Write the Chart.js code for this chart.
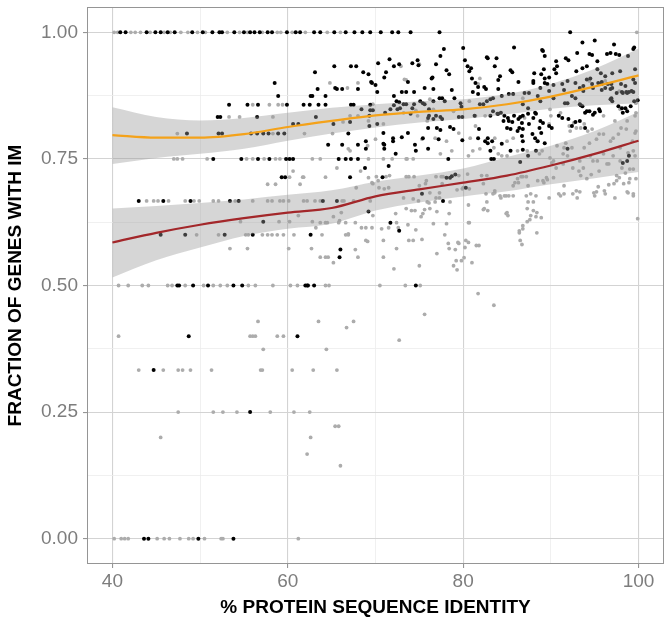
<!DOCTYPE html>
<html><head><meta charset="utf-8">
<script src="https://cdn.jsdelivr.net/npm/chart.js@4/dist/chart.umd.min.js"></script>
<style>html,body{margin:0;padding:0;background:#fff}#wrap{width:672px;height:622px}</style>
</head><body><div id="wrap"><canvas id="c" width="672" height="622"></canvas></div>
<script>
const xTicks = [40,50,60,70,80,90,100];
const yTicks = [0,0.125,0.25,0.375,0.5,0.625,0.75,0.875,1];
const xTitle = '% PROTEIN SEQUENCE IDENTITY';
const yTitle = 'FRACTION OF GENES WITH IM';

// LOESS fits
const fitX      = [40,45,50,55,60,65,70,75,80,85,90,95,100];
const orangeFit = [0.797,0.792,0.792,0.799,0.813,0.825,0.836,0.843,0.848,0.858,0.873,0.893,0.915];
const orangeHi  = [0.852,0.833,0.826,0.831,0.841,0.851,0.858,0.864,0.868,0.878,0.898,0.928,0.968];
const orangeLo  = [0.740,0.752,0.760,0.770,0.786,0.800,0.812,0.822,0.829,0.838,0.849,0.856,0.860];
const redFit    = [0.585,0.604,0.620,0.633,0.644,0.653,0.676,0.690,0.703,0.717,0.737,0.760,0.786];
const redHi     = [0.652,0.657,0.663,0.670,0.679,0.688,0.705,0.717,0.731,0.754,0.776,0.805,0.843];
const redLo     = [0.516,0.550,0.575,0.598,0.612,0.622,0.648,0.664,0.676,0.686,0.700,0.712,0.724];

const blackPoints = [
[40.9,1],[41.5,1],[43.9,1],[44.9,1],[45.5,1],[46.3,1],[47.1,1],[49.1,1],[50.3,1],[51.4,1],[52.2,1],[52.5,1],[53.9,1],[55.0,1],[55.7,1],[56.2,1],[56.8,1],[57.7,1],[58.2,1],[59.9,1],[60.9,1],[61.4,1],[63.0,1],[63.7,1],[65.3,1],[66.6,1],[67.6,1],[68.5,1],[69.4,1],[70.6,1],[71.9,1],[72.6,1],[74.0,1],[77.3,1],[92.2,1],
[65.3,0.933],[63.1,0.921],[58.5,0.900],[63.4,0.888],[58.9,0.874],[62.6,0.874],[62.8,0.874],[64.3,0.874],[65.4,0.890],
[67.2,0.933],[67.8,0.933],[68.6,0.921],[69.2,0.917],[69.6,0.900],[70.0,0.896],[70.3,0.939],[71.0,0.911],[65.6,0.888],[66.2,0.888],[68.0,0.888],[70.2,0.882],
[53.3,0.857],[55.4,0.857],[56.6,0.857],[59.9,0.857],[61.8,0.857],[62.5,0.857],[63.5,0.857],[64.3,0.857],[67.2,0.857],[67.5,0.857],[69.4,0.857],
[52.0,0.833],[52.3,0.833],[56.5,0.833],[63.2,0.833],
[60.6,0.819],[61.2,0.819],[65.2,0.819],[67.1,0.823],[70.2,0.819],
[48.5,0.8],[52.1,0.8],[52.5,0.8],[55.8,0.8],[56.5,0.8],[57.2,0.8],[57.8,0.8],[58.9,0.8],[59.6,0.8],[66.9,0.8],
[64.6,0.778],[66.2,0.778],[68.9,0.785],[68.9,0.770],[69.4,0.846],[69.7,0.846],[69.3,0.835],[69.3,0.815],[68.4,0.848],[68.0,0.778],
[51.5,0.75],[54.7,0.75],[56.6,0.75],[57.9,0.75],[59.8,0.75],[60.2,0.75],[60.6,0.75],[65.8,0.75],[66.6,0.75],[67.2,0.75],[68.0,0.75],
[59.3,0.714],[59.7,0.714],[67.1,0.714],[70.8,0.714],[68.8,0.732],
[43.0,0.667],[45.8,0.667],[48.9,0.667],[53.4,0.667],[54.4,0.667],[64.0,0.667],[65.6,0.667],
[69.2,0.646],
[45.5,0.6],[48.3,0.6],[52.8,0.6],[56.0,0.6],[62.6,0.6],
[57.2,0.626],[66.0,0.571],[65.9,0.556],
[47.4,0.5],[47.6,0.5],[49.2,0.5],[50.9,0.5],[53.8,0.5],[54.8,0.5],[62.0,0.5],[62.2,0.5],[62.3,0.5],[63.0,0.5],[74.6,0.5],
[48.7,0.4],[61.1,0.4],[44.7,0.333],[55.7,0.25],[43.6,0],[44.1,0],[49.8,0],[53.8,0],
[85.8,0.970],[80.0,0.969],[77.8,0.967],[93.6,0.980],[95.0,0.984],[89.1,0.963],[89.3,0.953],[99.5,0.970],[97.2,0.976],[82.8,0.949],[83.8,0.949],[77.4,0.953],[71.6,0.947],
[96.4,0.957],[96.8,0.959],[97.4,0.957],[97.8,0.955],[94.4,0.957],[94.7,0.955],[93.0,0.959],[91.7,0.949],[92.0,0.945],[90.6,0.943],[74.8,0.945],[74.9,0.935],[74.2,0.939],[72.7,0.937],[76.9,0.937],
[80.5,0.933],[80.9,0.929],[80.7,0.923],[85.4,0.925],[85.6,0.921],[88.1,0.919],[88.9,0.917],[89.2,0.927],[90.4,0.927],[90.6,0.919],[89.8,0.911],[92.9,0.923],[94.5,0.909],[95.7,0.919],[95.8,0.902],[96.9,0.898],
[86.3,0.902],[84.0,0.906],[88.0,0.900],[78.1,0.925],[76.4,0.909],[76.5,0.911],[73.7,0.902],[71.2,0.921],[69.5,0.902],[81.0,0.909],[81.4,0.900],[81.7,0.892],[82.4,0.892],[82.6,0.888],[78.7,0.886],[75.6,0.890],
[73.0,0.882],[73.5,0.882],[74.4,0.882],[72.1,0.874],[77.3,0.870],[79.0,0.870],[81.1,0.882],[85.2,0.878],[87.0,0.880],[87.5,0.880],[88.5,0.874],[89.8,0.884],[91.5,0.886],[92.8,0.870],[93.7,0.884],[94.8,0.890],[95.8,0.886],
[98.1,0.882],[98.6,0.882],[98.9,0.882],[99.4,0.882],[96.9,0.870],[99.9,0.866],[99.5,0.864],[72.4,0.864],[72.7,0.862],[74.2,0.850],[75.6,0.858],[74.4,0.858],[76.6,0.864],[77.6,0.870],
[76.0,0.831],[76.1,0.835],[76.6,0.829],[76.9,0.835],[79.5,0.833],[79.9,0.833],[81.3,0.835],[84.3,0.841],[84.7,0.835],[85.1,0.831],[85.2,0.825],[85.8,0.835],[86.3,0.829],[86.8,0.835],[87.4,0.839],[88.0,0.831],[88.3,0.839],
[85.0,0.811],[85.4,0.809],[86.4,0.811],[86.8,0.809],[87.5,0.819],[88.7,0.811],[89.8,0.815],[90.9,0.835],[91.3,0.831],[92.0,0.829],[92.8,0.823],[93.4,0.856],[94.4,0.844],[95.5,0.848],[98.1,0.850],[99.1,0.854],
[78.9,0.809],[77.0,0.811],[81.8,0.809],[82.8,0.791],[81.7,0.791],[88.2,0.791],[88.9,0.801],[75.4,0.791],[72.0,0.791],[71.0,0.778],[74.5,0.778],[73.0,0.793],[78.3,0.750],[71.5,0.736],[87.4,0.756],[91.9,0.770],[98.9,0.756],[98.2,0.742],[83.5,0.750],
[71.7,0.624],[72.7,0.608],[77.7,0.667],[75.3,0.681],[78.5,0.713],[79.1,0.719],[78.1,0.713],[78.7,0.716],[80.3,0.693],
[89.0,0.965],[99.4,0.967],[90.7,0.933],[89.3,0.909],[88.0,0.904],[93.6,0.929],[94.1,0.933],[95.3,0.927],[95.3,0.943],[97.0,0.919],[97.9,0.923],[98.8,0.953],[99.6,0.927],[96.5,0.898],[98.0,0.898],[98.5,0.894],[99.4,0.907],[99.6,0.900],[96.2,0.913],
[88.8,0.890],[89.3,0.900],[89.6,0.898],[90.3,0.896],[91.3,0.898],[91.9,0.904],[92.8,0.900],[93.3,0.890],[93.7,0.894],[94.1,0.907],[94.7,0.898],[95.4,0.900],[95.8,0.898],[96.2,0.890],[96.8,0.888],[97.0,0.890],[97.5,0.880],[98.2,0.880],[98.7,0.880],[99.2,0.884],
[88.8,0.864],[90.3,0.870],[91.6,0.860],[91.9,0.860],[92.4,0.874],[93.3,0.858],[96.8,0.868],[97.0,0.864],[97.7,0.854],[98.5,0.850],[98.7,0.844],[93.9,0.841],[94.1,0.844],[93.6,0.854],[95.6,0.844],[94.8,0.837],
[86.8,0.858],[87.4,0.850],[86.5,0.833],[88.2,0.841],[86.7,0.821],[88.8,0.825],[89.1,0.821],[86.7,0.795],[86.8,0.785],[88.5,0.785],[89.3,0.781],[87.9,0.799],[90.1,0.811],[86.8,0.768],[88.3,0.766],[93.3,0.825],[92.4,0.815],[93.9,0.811],[95.0,0.841],[98.2,0.841],[98.7,0.746],[86.5,0.744],
[72.1,0.933],[78.4,0.917],[80.2,0.945],[82.7,0.951],[83.6,0.933],[76.6,0.888],[77.9,0.864],[79.7,0.860],[79.8,0.853],[81.7,0.878],[81.9,0.858],[82.3,0.858],[82.7,0.864],[83.1,0.868],[83.4,0.870],[84.4,0.874],[84.2,0.913],
[72.1,0.856],[71.7,0.848],[72.5,0.848],[72.8,0.850],[71.1,0.841],[73.2,0.858],[73.5,0.858],[75.1,0.864],[75.4,0.860],[74.0,0.839],[76.1,0.848],[83.1,0.835],[83.4,0.844],[83.9,0.839],
[73.7,0.801],[76.0,0.811],[77.4,0.807],[78.5,0.813],[77.2,0.789],[82.5,0.785],[82.8,0.781],[83.3,0.785],[79.9,0.787],[70.9,0.801],[72.3,0.760],[70.9,0.780],[71.0,0.770],[76.0,0.770],[74.6,0.766],[83.1,0.766],[85.4,0.766],[83.2,0.750],
[84.6,0.825],[85.6,0.823],[86.2,0.805],[85.7,0.878],[84.0,0.888],[84.0,0.839],[77.4,0.833],[77.6,0.829],[72.0,0.785],[84.4,0.780]
];

const grayPoints = [
[40.2,1],[40.6,1],[42.1,1],[42.6,1],[43.2,1],[44.3,1],[45.9,1],[46.6,1],[47.8,1],[48.6,1],[49.7,1],[50.6,1],[53.1,1],[54.5,1],[55.4,1],[57.1,1],[58.8,1],[59.2,1],[60.5,1],[62.0,1],[64.5,1],[66.0,1],[99.8,1],
[61.9,0.8],[47.4,0.8],[58.3,0.8],[65.1,0.8],[56.0,0.857],[58.9,0.857],[57.9,0.857],[59.4,0.857],[53.3,0.833],[54.5,0.833],[58.3,0.833],[66.3,0.823],[64.8,0.900],[66.8,0.890],[68.0,0.900],[67.1,0.835],[68.0,0.835],[69.2,0.825],
[67.1,0.766],[70.0,0.789],[69.1,0.776],[68.3,0.726],[65.6,0.732],[64.3,0.714],[61.8,0.714],[60.2,0.714],[61.7,0.714],[60.6,0.726],
[47.0,0.75],[47.4,0.75],[48.0,0.75],[50.8,0.75],[55.3,0.75],[56.0,0.75],[57.3,0.75],[58.6,0.75],[59.1,0.75],[62.8,0.75],[63.7,0.75],[69.2,0.75],[70.9,0.75],[73.5,0.75],[74.3,0.75],
[57.7,0.7],[58.6,0.7],[61.4,0.7],[69.7,0.701],[70.3,0.707],
[43.9,0.667],[44.7,0.667],[45.2,0.667],[46.4,0.667],[48.3,0.667],[49.3,0.667],[49.9,0.667],[51.5,0.667],[52.1,0.667],[54.0,0.667],[56.0,0.667],[57.7,0.667],[58.2,0.667],[59.1,0.667],[59.5,0.667],[60.1,0.667],[61.8,0.667],[62.2,0.667],[63.1,0.667],[63.7,0.667],[66.2,0.667],[69.4,0.667],[66.4,0.667],[67.5,0.667],
[49.6,0.6],[52.1,0.6],[55.2,0.6],[55.5,0.6],[57.1,0.6],[57.7,0.6],[58.2,0.6],[58.8,0.6],[59.5,0.6],[60.7,0.6],[63.9,0.6],[66.6,0.6],[66.9,0.6],
[54.6,0.626],[59.0,0.626],[60.2,0.626],[62.8,0.626],[63.7,0.624],[64.3,0.624],[64.5,0.624],[65.8,0.624],[66.6,0.624],[67.7,0.624],[61.2,0.638],[65.2,0.636],[66.1,0.644],[63.2,0.614],[68.4,0.614],[68.9,0.614],[69.6,0.614],[70.7,0.612],[65.9,0.628],[69.7,0.638],
[53.4,0.573],[55.4,0.573],[60.1,0.573],[62.7,0.573],[67.7,0.571],[69.1,0.587],[66.9,0.602],[68.9,0.589],[70.9,0.589],
[63.7,0.556],[64.3,0.556],[64.6,0.556],[65.2,0.545],[68.0,0.556],[70.9,0.556],
[40.7,0.5],[41.8,0.5],[43.4,0.5],[44.1,0.5],[46.3,0.5],[46.8,0.5],[48.3,0.5],[50.4,0.5],[51.5,0.5],[52.3,0.5],[53.1,0.5],[55.5,0.5],[56.3,0.5],[58.3,0.5],[60.3,0.5],[61.1,0.5],[64.3,0.5],[64.7,0.5],[70.5,0.5],[73.4,0.5],[75.1,0.5],
[56.6,0.429],[63.5,0.429],[40.7,0.4],[55.7,0.4],[56.0,0.4],[56.3,0.4],[58.8,0.4],[59.5,0.4],[57.2,0.374],[64.4,0.374],
[43.0,0.333],[45.8,0.333],[47.5,0.333],[48.0,0.333],[48.9,0.333],[51.3,0.333],[56.9,0.333],[57.1,0.333],[60.5,0.333],[62.9,0.333],
[47.5,0.25],[51.5,0.25],[52.6,0.25],[54.2,0.25],[58.0,0.25],[60.7,0.25],[62.5,0.25],[65.4,0.222],[45.5,0.2],[62.6,0.2],[62.2,0.167],
[40.2,0],[41.0,0],[41.4,0],[41.8,0],[45.1,0],[45.9,0],[46.5,0],[47.7,0],[48.7,0],[49.2,0],[50.5,0],[52.4,0],[52.6,0],[61.2,0],
[66.7,0.417],[67.5,0.429],[75.6,0.443],[72.7,0.392],[65.6,0.333],[65.8,0.222],[66.0,0.144],
[73.5,0.906],[75.0,0.937],[86.8,0.870],[94.4,0.904],[96.2,0.904],[97.8,0.884],[99.7,0.860],[99.7,0.841],[76.6,0.848],[74.6,0.846],[73.2,0.841],[69.7,0.858],[79.5,0.801],[81.4,0.815],[82.5,0.835],[87.0,0.831],[90.0,0.835],[89.8,0.819],
[92.1,0.815],[92.6,0.821],[92.9,0.811],[93.8,0.819],[93.4,0.811],[72.9,0.933],[73.3,0.907],[81.9,0.909],[81.7,0.898],[76.2,0.868],[80.7,0.864],[74.8,0.835],[75.9,0.825],[78.9,0.844],[81.4,0.835],
[75.3,0.789],[76.8,0.791],[80.6,0.756],[81.9,0.770],[80.8,0.791],[71.9,0.75],[73.6,0.75],[78.7,0.766],[77.4,0.760],[70.9,0.819],[83.6,0.791],[85.0,0.785],[85.7,0.791],[86.2,0.766],[85.0,0.756],
[78.1,0.785],[66.9,0.770],[83.5,0.772],[84.0,0.760],[84.4,0.756],[81.1,0.766],[88.7,0.760],[91.5,0.772],[91.7,0.781],[95.5,0.799],[96.0,0.799],[98.0,0.811],[98.6,0.809],[99.7,0.805],[99.3,0.785],[97.1,0.791],[95.2,0.789],[94.4,0.781],[93.8,0.772],
[96.6,0.740],[98.1,0.732],[94.8,0.746],[95.5,0.726],[93.7,0.732],[92.5,0.732],[91.9,0.756],[90.3,0.746],[90.6,0.732],
[89.9,0.848],[91.1,0.841],[92.2,0.805],[94.2,0.805],[94.7,0.809],[96.0,0.835],[97.3,0.825],[97.9,0.848],[98.7,0.825],[99.6,0.835],[97.7,0.799],[96.8,0.785],[99.6,0.801],[97.9,0.772],[98.8,0.762],[99.4,0.766],[97.1,0.756],[96.0,0.760],[94.5,0.756],
[93.3,0.746],[95.3,0.746],[91.4,0.760],[92.4,0.772],[90.7,0.776],[88.4,0.785],[89.0,0.766],[87.3,0.766],[89.9,0.752],[90.1,0.742],[91.4,0.740],[97.9,0.746],[96.4,0.740],[99.6,0.756],[99.4,0.730],[99.0,0.730],
[69.2,0.713],[70.1,0.715],[71.6,0.717],[73.5,0.715],[73.8,0.715],[74.4,0.715],[76.9,0.715],[77.5,0.715],[79.5,0.717],[80.5,0.720],[82.1,0.717],[86.6,0.715],[86.8,0.715],[87.2,0.715],[88.5,0.707],[89.5,0.713],[93.2,0.726],
[70.4,0.693],[71.0,0.691],[71.5,0.693],[69.6,0.703],[67.8,0.693],[80.0,0.693],[80.7,0.691],[82.3,0.701],[83.4,0.681],[84.3,0.673],[84.9,0.677],[85.7,0.697],[86.3,0.703],[88.3,0.677],[87.7,0.681],[89.2,0.703],[89.8,0.673],
[90.9,0.681],[91.5,0.681],[92.5,0.681],[92.9,0.687],[94.9,0.683],[96.1,0.687],[97.2,0.701],[98.3,0.701],[98.8,0.683],[99.4,0.681],[98.9,0.703],[99.7,0.711],[99.9,0.632],
[73.2,0.673],[74.3,0.671],[76.1,0.663],[76.9,0.673],[75.8,0.707],[75.0,0.697],[73.5,0.652],[74.1,0.648],[74.5,0.648],[75.6,0.650],[80.6,0.659],[82.3,0.650],[82.8,0.648],[84.9,0.642],[85.1,0.638],[87.3,0.652],[88.0,0.648],[88.3,0.636],[87.3,0.626],[87.7,0.638],
[87.4,0.697],[87.2,0.677],[88.0,0.665],[87.4,0.665],[88.4,0.644],[87.6,0.630],[88.9,0.634],[86.8,0.618],[88.4,0.604],[86.5,0.589],[86.7,0.581],[89.1,0.707],[89.6,0.709],[90.3,0.713],[91.1,0.677],[91.5,0.697],[93.0,0.673],[93.3,0.685],
[93.4,0.717],[94.1,0.711],[94.6,0.719],[95.0,0.677],[95.2,0.685],[95.4,0.695],[96.2,0.681],[96.6,0.699],[97.3,0.673],[97.5,0.707],[97.5,0.717],[97.8,0.713],[98.5,0.722],[99.0,0.711],[98.7,0.685],[99.4,0.677],
[71.5,0.614],[72.4,0.624],[72.6,0.614],[72.4,0.573],[73.8,0.589],[75.3,0.591],[78.1,0.622],[79.5,0.583],[80.3,0.589],[80.7,0.624],[80.6,0.585],[81.5,0.579],[78.4,0.573],[80.1,0.555],[78.9,0.539],[79.2,0.549],[86.8,0.612],[86.4,0.604],
[75.0,0.539],[72.1,0.533],[81.7,0.484],[83.5,0.461],
[72.3,0.642],[75.4,0.642],[75.2,0.636],[76.2,0.652],[77.0,0.646],[78.4,0.642],[76.6,0.622],[73.7,0.620],[74.6,0.610],[74.3,0.589],[77.0,0.563],[77.9,0.600],[78.3,0.583],[79.1,0.571],[79.4,0.585],[80.2,0.575],[81.8,0.579],[79.8,0.549],[81.0,0.545],[79.3,0.531],
[82.4,0.652],[82.7,0.665],[83.6,0.683],[84.2,0.677],[84.7,0.677],[85.2,0.677],[85.7,0.677],[85.0,0.644],[86.4,0.608],[80.6,0.624],
[74.9,0.667],[75.9,0.665],[76.8,0.665],[78.5,0.665],[76.2,0.683],[77.3,0.683],[77.3,0.673],[79.3,0.689],[79.9,0.691],[71.2,0.715],[75.7,0.701],[77.6,0.701],[77.7,0.715],[82.7,0.717],[83.6,0.687],[82.6,0.681],[85.9,0.703],[86.2,0.711]
];

const toXY = arr => arr.map(p => ({x: p[0], y: p[1]}));
const curve = ys => fitX.map((x, i) => ({x, y: ys[i]}));

const MAJOR = '#d3d3d3', MINOR = '#ececec', AXIS = '#959595';
const isMajorX = v => Math.abs(v % 20) < 1e-9;
const isMajorY = v => Math.abs(v * 4 - Math.round(v * 4)) < 1e-9;

const bandStyle = {type: 'line', pointRadius: 0, borderWidth: 0, borderColor: 'rgba(0,0,0,0)',
  backgroundColor: 'rgba(153,153,153,0.4)', cubicInterpolationMode: 'monotone', order: 1};
const fitStyle = {type: 'line', pointRadius: 0, borderWidth: 2.2, fill: false,
  cubicInterpolationMode: 'monotone', order: 0};

const panelBorder = {
  id: 'panelBorder',
  afterDatasetsDraw(chart) {
    const {ctx, chartArea: a} = chart;
    ctx.save();
    ctx.strokeStyle = AXIS; ctx.lineWidth = 1;
    ctx.strokeRect(Math.round(a.left) + 0.5, Math.round(a.top) + 0.5,
      Math.round(a.right - a.left) - 1, Math.round(a.bottom - a.top) - 1);
    ctx.restore();
  }
};

const tickFont = {family: "'Liberation Sans', Arial, sans-serif", size: 19};
const titleFont = {family: "'Liberation Sans', Arial, sans-serif", size: 19, weight: 'bold'};

new Chart(document.getElementById('c'), {
  type: 'scatter',
  data: {
    datasets: [
      Object.assign({}, bandStyle, {data: curve(orangeHi), fill: '+1'}),
      Object.assign({}, bandStyle, {data: curve(orangeLo), fill: false}),
      Object.assign({}, bandStyle, {data: curve(redHi), fill: '+1'}),
      Object.assign({}, bandStyle, {data: curve(redLo), fill: false}),
      Object.assign({}, fitStyle, {data: curve(orangeFit), borderColor: '#F4A21A'}),
      Object.assign({}, fitStyle, {data: curve(redFit), borderColor: '#A3272A'}),
      {data: toXY(blackPoints), backgroundColor: '#000', borderWidth: 0, pointRadius: 2, order: 2},
      {data: toXY(grayPoints), backgroundColor: '#acacac', borderWidth: 0, pointRadius: 1.9, order: 3}
    ]
  },
  options: {
    responsive: false, animation: false, devicePixelRatio: 1,
    layout: {padding: {top: 7, right: 8, left: 0, bottom: 0}},
    plugins: {legend: {display: false}, tooltip: {enabled: false}},
    scales: {
      x: {
        type: 'linear', min: 37.1, max: 102.9,
        afterBuildTicks: s => { s.ticks = xTicks.map(v => ({value: v})); },
        afterFit: s => { s.height = 58; s.paddingLeft = 0; s.paddingRight = 0; },
        border: {display: false},
        grid: {
          color: c => isMajorX(c.tick.value) ? MAJOR : MINOR,
          lineWidth: c => isMajorX(c.tick.value) ? 1.1 : 0.8,
          drawTicks: true, tickLength: 4,
          tickColor: c => isMajorX(c.tick.value) ? AXIS : 'rgba(0,0,0,0)'
        },
        ticks: {autoSkip: false, maxRotation: 0, padding: 2, color: '#7d7d7d', font: tickFont,
          callback: v => isMajorX(v) ? String(v) : ''},
        title: {display: true, text: xTitle, color: '#000', font: titleFont, padding: {top: 0, bottom: 3}}
      },
      y: {
        type: 'linear', min: -0.05, max: 1.05,
        afterBuildTicks: s => { s.ticks = yTicks.map(v => ({value: v})); },
        afterFit: s => { s.width = 87; s.paddingTop = 0; s.paddingBottom = 0; },
        border: {display: false},
        grid: {
          color: c => isMajorY(c.tick.value) ? MAJOR : MINOR,
          lineWidth: c => isMajorY(c.tick.value) ? 1.1 : 0.8,
          drawTicks: true, tickLength: 4,
          tickColor: c => isMajorY(c.tick.value) ? AXIS : 'rgba(0,0,0,0)'
        },
        ticks: {autoSkip: false, padding: 5, color: '#7d7d7d', font: tickFont,
          callback: v => isMajorY(v) ? v.toFixed(2) : ''},
        title: {display: true, text: yTitle, color: '#000', font: titleFont, padding: {top: 4, bottom: 0}}
      }
    }
  },
  plugins: [panelBorder]
});
</script>
</body></html>
